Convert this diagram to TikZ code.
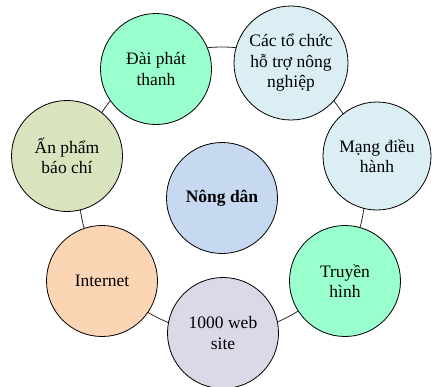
\documentclass[tikz,border=0pt]{standalone}
\usepackage{fontspec}
\setmainfont{Liberation Serif}
\begin{document}
\begin{tikzpicture}[x=1pt,y=-1pt,
  bub/.style={circle,draw=black,line width=0.8pt,minimum size=111pt,inner sep=0pt,align=center,
    font=\fontsize{17.5}{20.5}\selectfont},
  ringline/.style={draw=black!85,line width=0.8pt}]
\useasboundingbox (0,0) rectangle (433,386);
\coordinate (ringc) at (222,190);
\draw[ringline] (ringc) circle[radius=143pt];
\node[bub,fill={rgb,255:red,153;green,255;blue,204}] (dai) at (156,69) {Đài phát\\thanh};
\node[bub,fill={rgb,255:red,218;green,238;blue,243},minimum size=114pt] (cac) at (291,63) {Các tổ chức\\hỗ trợ nông\\nghiệp};
\node[bub,fill={rgb,255:red,218;green,238;blue,243},minimum size=108pt] (mang) at (377,156) {Mạng điều\\hành};
\node[bub,fill={rgb,255:red,215;green,228;blue,189}] (an) at (67,156) {Ấn phẩm\\báo chí};
\node[bub,fill={rgb,255:red,198;green,217;blue,241},font=\fontsize{17.5}{20.5}\selectfont\bfseries] (nong) at (222,198) {Nông dân};
\node[bub,fill={rgb,255:red,252;green,213;blue,181}] (inet) at (102,281) {Internet};
\node[bub,fill={rgb,255:red,153;green,255;blue,204}] (truyen) at (345,281) {Truyền\\hình};
\node[bub,fill={rgb,255:red,221;green,216;blue,232}] (web) at (223,333) {1000 web\\site};
\end{tikzpicture}
\end{document}
